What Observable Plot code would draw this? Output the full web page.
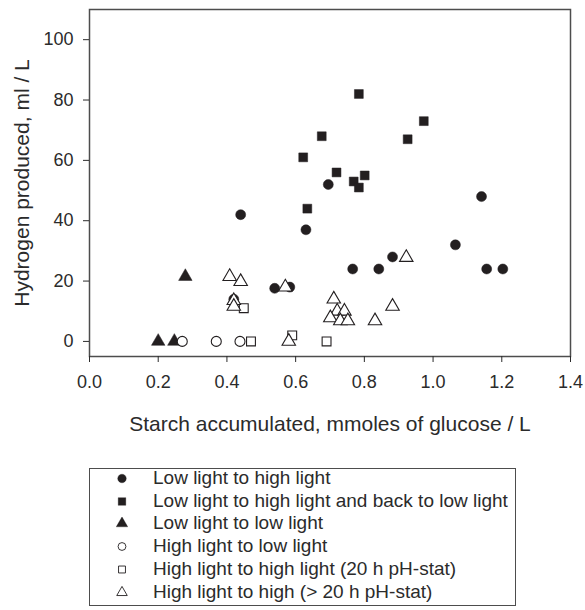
<!DOCTYPE html>
<html><head><meta charset="utf-8">
<script src="https://cdn.jsdelivr.net/npm/d3@7"></script>
<script src="https://cdn.jsdelivr.net/npm/@observablehq/plot@0.6"></script>
<style>
html,body{margin:0;padding:0;background:#fff;}
body{width:585px;font-family:"Liberation Sans",Arial,sans-serif;color:#2b2b2b;}
#legend{position:relative;margin-left:89px;width:427px;height:138px;border:1.5px solid #4d4d4d;box-sizing:border-box;margin-top:18px;}
.row{position:absolute;left:0;height:22px;line-height:22px;font-size:19px;white-space:nowrap;}
.row svg{position:absolute;left:26px;top:5px;}
.row span{position:absolute;left:63px;}
</style></head><body>
<div id="chart"></div>
<div id="legend"></div>
<script>
// Series data
const names = [
  "Low light to high light",
  "Low light to high light and back to low light",
  "Low light to low light",
  "High light to low light",
  "High light to high light (20 h pH-stat)",
  "High light to high (> 20 h pH-stat)"
];
const symbols = ["circle", "square", "triangle", "circle", "square", "triangle"];
const filled = [true, true, true, false, false, false];

const lhX = [0.44, 0.63, 0.695, 0.539, 0.583, 0.42, 1.141, 1.065, 0.882, 0.766, 0.842, 1.156, 1.203];
const lhY = [42, 37, 52, 17.6, 18, 14, 48, 32, 28, 24, 24, 24, 24];

const lhlX = [0.676, 0.622, 0.784, 0.973, 0.926, 0.719, 0.801, 0.769, 0.784, 0.634];
const lhlY = [68, 61, 82, 73, 67, 56, 55, 53, 51, 44];

const llX = [0.279, 0.2, 0.247];
const llY = [21.5, 0, 0];

const hlX = [0.27, 0.369, 0.438];
const hlY = [0, 0, 0];

const hh20X = [0.47, 0.449, 0.59, 0.69];
const hh20Y = [0, 11, 2, 0];

const hhLongX = [0.408, 0.44, 0.42, 0.42, 0.57, 0.58, 0.711, 0.721, 0.742, 0.701, 0.730, 0.752, 0.831, 0.882, 0.922];
const hhLongY = [21.5, 19.8, 13.5, 11.6, 18, 0, 14, 10, 10, 7.8, 6.8, 6.8, 6.8, 11.6, 27.8];

const xTicks = [0.0, 0.2, 0.4, 0.6, 0.8, 1.0, 1.2, 1.4];
const yTicks = [0, 20, 40, 60, 80, 100];
const xLabel = "Starch accumulated, mmoles of glucose / L";
const yLabel = "Hydrogen produced, ml / L";

const seriesX = [lhX, lhlX, llX, hlX, hh20X, hhLongX];
const seriesY = [lhY, lhlY, llY, hlY, hh20Y, hhLongY];

const ink = "#231f20";
const series = names.map((name, i) => ({
  name, symbol: symbols[i], filled: filled[i],
  data: seriesX[i].map((x, j) => ({x, y: seriesY[i][j]}))
}));

const plot = Plot.plot({
  width: 585,
  height: 450,
  marginLeft: 89,
  marginRight: 15,
  marginTop: 9,
  marginBottom: 94,
  style: {fontFamily: '"Liberation Sans", Arial, sans-serif', fontSize: "18px", color: "#2b2b2b", background: "#fff"},
  x: {domain: [0, 1.4]},
  y: {domain: [-5, 110]},
  marks: [
    Plot.frame({stroke: "#4d4d4d", strokeWidth: 1.5}),
    Plot.axisX({ticks: xTicks, tickFormat: d => d.toFixed(1), tickSize: 6, tickPadding: 13,
      label: xLabel, labelAnchor: "center", labelArrow: "none", labelOffset: 74}),
    Plot.axisY({ticks: yTicks, tickSize: 6, tickPadding: 10,
      label: yLabel, labelAnchor: "center", labelArrow: "none", labelOffset: 75}),
    ...series.map(s => Plot.dot(s.data, {
      x: "x", y: "y", symbol: s.symbol, r: 5,
      fill: s.filled ? ink : "white", stroke: ink, strokeWidth: s.filled ? 0.5 : 1.1
    }))
  ]
});
document.getElementById("chart").appendChild(plot);
d3.select(plot).selectAll('[aria-label="x-axis label"] text, [aria-label="y-axis label"] text').attr("font-size", 21);

// HTML legend below the SVG
const legend = d3.select("#legend");
const rowTops = [-2, 20.5, 43, 65.5, 88.5, 111.5];
series.forEach((s, i) => {
  const row = legend.append("div").attr("class", "row").style("top", rowTops[i] + "px");
  const svg = row.append("svg").attr("width", 12).attr("height", 12);
  const sym = d3.symbol().type(s.symbol === "circle" ? d3.symbolCircle : s.symbol === "square" ? d3.symbolSquare : d3.symbolTriangle).size(s.filled ? 58 : 48);
  svg.append("path").attr("transform", "translate(6,6.5)").attr("d", sym())
    .attr("fill", s.filled ? ink : "white").attr("stroke", ink).attr("stroke-width", s.filled ? 0.3 : 0.9);
  row.append("span").text(s.name);
});
</script>
</body></html>
